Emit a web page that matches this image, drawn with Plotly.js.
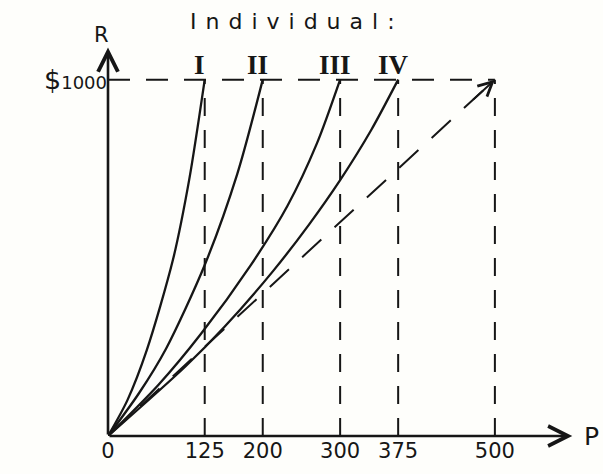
<!DOCTYPE html>
<html>
<head>
<meta charset="utf-8">
<script src="https://cdn.plot.ly/plotly-3.0.1.min.js"></script>
<style>html,body{margin:0;padding:0;background:#fefefb;}</style>
</head>
<body>
<div id="chart" style="width:603px;height:474px;"></div>
<script>
// Tick values / labels on the P axis
const tickValues = [0, 125, 200, 300, 375, 500];
const tickLabels = ["0", "125", "200", "300", "375", "500"];
// Level of R reached by each individual
const rMax = 1000;
const rMaxLabel = '$<span style="font-size:18px">1000</span>';
// Individuals' names
const names = ["I", "II", "III", "IV"];
// Curves (P, R)
const curveI_P = [0, 25, 50, 84, 105, 125];
const curveI_R = [0, 100, 240, 495, 720, 1000];
const curveII_P = [0, 40, 75, 125, 167, 200];
const curveII_R = [0, 120, 245, 480, 735, 1000];
const curveIII_P = [0, 65, 120, 185, 232, 270, 300];
const curveIII_R = [0, 143, 286, 481, 646, 821, 1000];
const curveIV_P = [0, 100, 150, 213, 260, 300, 340, 375];
const curveIV_R = [0, 195, 305, 462, 594, 718, 858, 1000];
// Dashed diagonal reference line
const diag_P = [0, 500];
const diag_R = [0, 1000];

const ink = "#161616";
const curves = [
  [curveI_P, curveI_R], [curveII_P, curveII_R],
  [curveIII_P, curveIII_R], [curveIV_P, curveIV_R]
];
const traces = [];
// dashed verticals
tickValues.filter(v => v > 0).forEach(v => {
  traces.push({x: [v, v], y: [0, rMax], mode: "lines", hoverinfo: "skip",
    line: {color: ink, width: 2, dash: "18px,14px"}});
});
// dashed horizontal at R max
traces.push({x: [0, Math.max(...tickValues)], y: [rMax, rMax], mode: "lines", hoverinfo: "skip",
  line: {color: ink, width: 2, dash: "22px,16px"}});
// dashed diagonal
traces.push({x: diag_P, y: diag_R, mode: "lines", hoverinfo: "skip",
  line: {color: ink, width: 2, dash: "26px,18px"}});
// curves
curves.forEach(c => {
  traces.push({x: c[0], y: c[1], mode: "lines", hoverinfo: "skip",
    line: {color: ink, width: 2.3, shape: "spline", smoothing: 0.8}});
});

const annotations = [
  // x axis arrow
  {x: 600, y: 0, ax: 0, ay: 0, xref: "x", yref: "y", axref: "x", ayref: "y",
   text: "", showarrow: true, arrowhead: 5, arrowsize: 1.5, arrowwidth: 2.6, arrowcolor: ink},
  // y axis arrow
  {x: 0, y: 1090, ax: 0, ay: 0, xref: "x", yref: "y", axref: "x", ayref: "y",
   text: "", showarrow: true, arrowhead: 5, arrowsize: 1.5, arrowwidth: 2.6, arrowcolor: ink},
  // diagonal arrowhead
  {x: diag_P[1], y: diag_R[1], ax: diag_P[1] - 30, ay: diag_R[1] - 60, xref: "x", yref: "y", axref: "x", ayref: "y",
   text: "", showarrow: true, arrowhead: 5, arrowsize: 1.4, arrowwidth: 2, arrowcolor: ink},
  {x: 0, y: 1100, xref: "x", yref: "y", text: "R", showarrow: false, xanchor: "right", yanchor: "bottom",
   xshift: 3, yshift: -5, font: {size: 21, color: ink, family: "DejaVu Sans"}},
  {x: 610, y: 0, xref: "x", yref: "y", text: "P", showarrow: false, xanchor: "left", yanchor: "middle",
   xshift: 2, font: {size: 25, color: ink, family: "DejaVu Sans"}},
  {x: 0.40, y: 1.0, xref: "paper", yref: "paper", yanchor: "bottom", yshift: 8, showarrow: false,
   text: '<span style="letter-spacing:9px">Individual:</span>',
   font: {size: 22, color: ink, family: "DejaVu Sans"}}
];
curves.forEach((c, i) => {
  annotations.push({x: c[0][c[0].length - 1], y: rMax, xref: "x", yref: "y", text: "<b>" + names[i] + "</b>",
    showarrow: false, yanchor: "bottom", xshift: -5, yshift: -2,
    font: {size: 27, color: ink, family: "Liberation Serif"}});
});

const layout = {
  width: 603, height: 474,
  margin: {l: 108, r: 23, t: 44, b: 38},
  paper_bgcolor: "#fefefb", plot_bgcolor: "#fefefb",
  showlegend: false,
  font: {family: "DejaVu Sans", color: ink},
  xaxis: {range: [0, 610], showgrid: false, zeroline: false, showline: false,
    tickmode: "array", tickvals: tickValues, ticktext: tickLabels, ticks: "",
    tickfont: {size: 21, color: ink}, fixedrange: true},
  yaxis: {range: [0, 1100], showgrid: false, zeroline: false, showline: false,
    tickmode: "array", tickvals: [rMax], ticktext: [rMaxLabel], ticks: "",
    tickfont: {size: 27, color: ink}, fixedrange: true},
  annotations: annotations
};
Plotly.newPlot("chart", traces, layout, {displayModeBar: false, staticPlot: true});
</script>
</body>
</html>
